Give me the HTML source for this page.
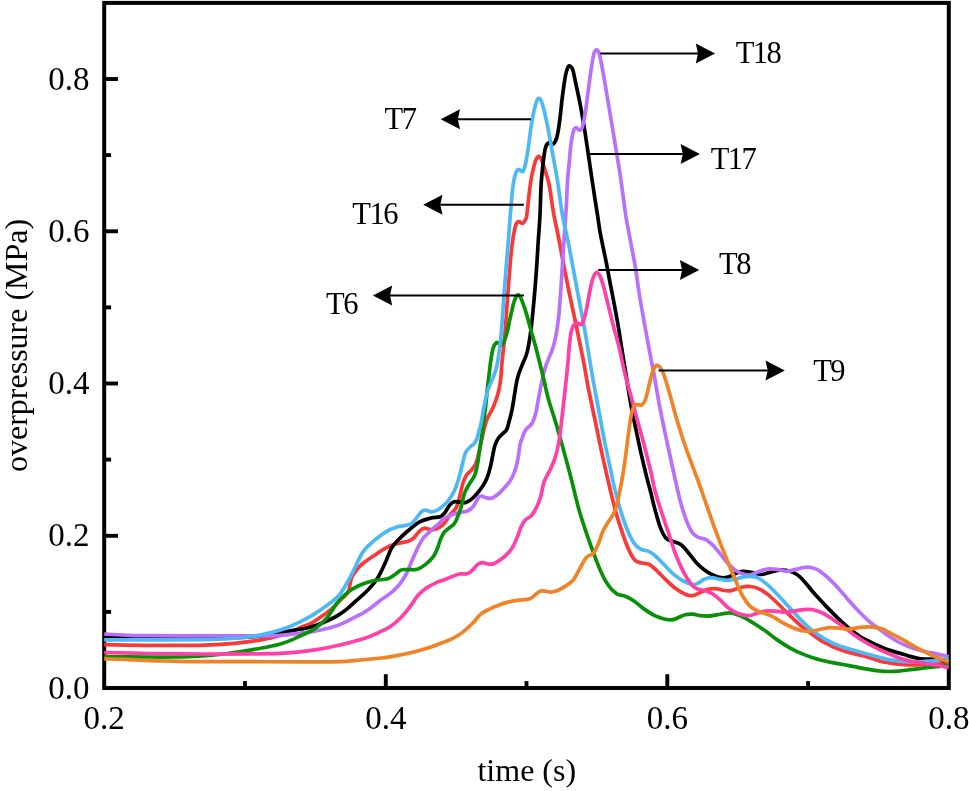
<!DOCTYPE html>
<html><head><meta charset="utf-8"><title>overpressure vs time</title>
<style>html,body{margin:0;padding:0;background:#fff}body{width:969px;height:791px;overflow:hidden}svg{display:block;will-change:transform}text{font-family:"Liberation Serif",serif;fill:#000}</style></head><body>
<svg width="969" height="791" viewBox="0 0 969 791">
<rect width="969" height="791" fill="#fff"/>
<rect x="104.2" y="2.9" width="844.6" height="685.1" fill="none" stroke="#000" stroke-width="4.0"/>
<g stroke="#000" stroke-width="3.9" fill="none"><line x1="104.2" y1="611.9" x2="111.1" y2="611.9"/><line x1="104.2" y1="535.8" x2="118.0" y2="535.8"/><line x1="104.2" y1="459.6" x2="111.1" y2="459.6"/><line x1="104.2" y1="383.5" x2="118.0" y2="383.5"/><line x1="104.2" y1="307.4" x2="111.1" y2="307.4"/><line x1="104.2" y1="231.3" x2="118.0" y2="231.3"/><line x1="104.2" y1="155.1" x2="111.1" y2="155.1"/><line x1="104.2" y1="79.0" x2="118.0" y2="79.0"/><line x1="245.0" y1="688.0" x2="245.0" y2="681.1"/><line x1="385.8" y1="688.0" x2="385.8" y2="674.2"/><line x1="526.5" y1="688.0" x2="526.5" y2="681.1"/><line x1="667.3" y1="688.0" x2="667.3" y2="674.2"/><line x1="808.1" y1="688.0" x2="808.1" y2="681.1"/></g>
<g font-size="33.0"><text x="89.6" y="698.6" text-anchor="end">0.0</text><text x="89.6" y="546.4" text-anchor="end">0.2</text><text x="89.6" y="394.1" text-anchor="end">0.4</text><text x="89.6" y="241.9" text-anchor="end">0.6</text><text x="89.6" y="89.6" text-anchor="end">0.8</text><text x="104.2" y="728.5" text-anchor="middle">0.2</text><text x="385.8" y="728.5" text-anchor="middle">0.4</text><text x="667.3" y="728.5" text-anchor="middle">0.6</text><text x="948.9" y="728.5" text-anchor="middle">0.8</text></g>
<text x="526.8" y="780.5" font-size="32" text-anchor="middle">time (s)</text>
<text transform="translate(27.2 345.4) rotate(-90)" font-size="32" text-anchor="middle">overpressure (MPa)</text>
<g fill="none" stroke-width="3.7" stroke-linejoin="round" stroke-linecap="butt"><path stroke="#F93838" d="M104.2 644.6C111.8 644.7 133.7 645.2 149.5 645.3C165.3 645.4 186.6 645.5 199.0 645.3C211.4 645.1 216.1 644.7 223.8 644.2C231.5 643.7 238.6 643.0 245.0 642.2C251.4 641.4 256.4 640.7 262.0 639.6C267.6 638.5 273.9 637.1 278.6 635.9C283.3 634.7 286.3 633.7 290.0 632.2C293.7 630.8 297.4 628.7 301.0 627.2C304.6 625.7 307.9 624.9 311.3 623.1C314.7 621.3 318.2 618.8 321.6 616.4C325.0 614.0 328.5 611.6 331.9 608.6C335.3 605.6 339.4 601.1 342.2 598.3C344.9 595.5 346.9 594.9 348.4 591.6C349.9 588.3 349.9 582.0 351.4 578.3C352.8 574.6 355.2 571.7 357.1 569.2C359.0 566.7 360.0 565.8 362.8 563.5C365.6 561.2 370.3 558.1 374.1 555.5C377.9 552.9 381.7 550.1 385.5 548.1C389.3 546.1 393.1 544.7 396.9 543.6C400.7 542.5 405.5 542.2 408.3 541.3C411.1 540.3 412.0 539.6 413.9 537.9C415.8 536.2 417.9 532.6 419.6 531.0C421.3 529.4 422.5 528.5 424.2 528.2C425.9 528.0 428.0 529.3 429.9 529.5C431.8 529.7 433.9 529.7 435.6 529.3C437.3 528.9 438.4 528.2 440.0 527.1C441.6 526.0 443.4 524.5 445.0 522.5C446.6 520.5 447.7 517.8 449.6 515.3C451.5 512.8 454.7 510.6 456.4 507.4C458.1 504.2 458.7 500.2 459.8 496.0C460.9 491.8 462.1 485.8 463.2 482.3C464.3 478.8 465.3 476.9 466.6 474.9C467.9 472.9 469.7 472.2 471.2 470.4C472.7 468.6 474.6 466.5 475.7 464.1C476.8 461.7 477.0 460.3 478.0 456.2C479.0 452.1 480.3 445.6 481.7 439.7C483.1 433.8 484.6 426.1 486.5 420.7C488.4 415.3 491.2 411.8 493.1 407.4C495.0 403.0 496.6 398.8 497.9 394.1C499.2 389.4 500.0 384.7 500.7 379.0C501.4 373.3 501.5 366.8 502.2 360.0C502.9 353.2 503.7 348.2 504.6 338.3C505.5 328.4 506.4 313.0 507.4 300.4C508.3 287.8 509.4 272.8 510.3 262.4C511.2 252.0 512.1 244.1 513.1 237.8C514.1 231.5 515.0 227.2 516.0 224.5C517.0 221.8 517.7 221.8 518.8 221.6C519.9 221.4 521.5 223.8 522.6 223.5C523.7 223.2 524.7 221.1 525.4 219.7C526.1 218.3 526.0 220.8 526.8 215.0C527.6 209.2 529.2 192.4 530.3 184.8C531.3 177.2 532.1 173.9 533.1 169.7C534.1 165.5 535.0 162.0 536.0 159.8C537.0 157.6 537.9 156.4 538.8 156.4C539.7 156.4 540.5 157.3 541.6 159.8C542.7 162.3 544.1 167.4 545.4 171.6C546.7 175.8 547.8 177.6 549.2 184.8C550.6 192.0 552.3 206.2 553.9 215.0C555.5 223.8 556.9 229.0 558.6 237.8C560.3 246.7 562.4 258.3 564.3 268.1C566.2 277.9 568.1 287.4 570.0 296.6C571.9 305.8 574.0 314.9 575.7 323.1C577.4 331.3 579.0 338.9 580.4 345.9C581.8 352.8 582.9 358.0 584.2 364.8C585.5 371.6 586.1 377.0 588.0 386.6C589.9 396.2 593.0 410.6 595.5 422.6C598.0 434.6 600.6 447.4 603.1 458.6C605.6 469.8 608.3 481.6 610.3 490.0C612.3 498.4 613.3 502.7 615.0 509.0C616.7 515.3 618.5 521.3 620.7 527.9C622.9 534.5 625.9 543.4 628.3 548.8C630.7 554.2 632.7 557.8 634.9 560.2C637.1 562.6 639.2 562.3 641.6 563.0C644.0 563.7 646.6 563.1 649.1 564.4C651.6 565.7 653.9 568.0 656.7 570.6C659.6 573.2 663.0 577.1 666.2 580.1C669.4 583.1 672.5 586.2 675.7 588.6C678.9 591.0 682.4 593.1 685.2 594.3C688.1 595.5 690.3 596.0 692.8 595.7C695.3 595.4 697.9 593.5 700.4 592.4C702.9 591.3 705.5 589.8 708.0 589.2C710.5 588.6 713.0 588.4 715.5 588.6C718.0 588.8 720.7 589.8 723.1 590.2C725.5 590.6 728.0 590.9 730.0 590.8C732.0 590.6 733.1 589.9 735.2 589.3C737.3 588.7 740.3 587.5 742.8 587.0C745.3 586.5 747.8 586.3 750.3 586.5C752.8 586.7 755.0 587.1 757.9 588.4C760.8 589.7 763.9 591.4 767.4 594.1C770.9 596.8 775.0 600.9 778.8 604.5C782.6 608.1 786.4 612.3 790.2 615.9C794.0 619.5 797.8 623.1 801.6 626.3C805.4 629.4 809.1 632.1 812.9 634.8C816.7 637.5 820.2 640.1 824.3 642.4C828.4 644.7 832.9 646.9 837.6 648.7C842.4 650.5 847.7 652.0 852.8 653.4C857.9 654.8 863.5 655.9 868.0 657.2C872.5 658.5 876.0 660.0 879.5 661.0C883.0 662.0 885.8 662.4 889.0 662.9C892.2 663.4 895.4 663.8 898.5 664.1C901.6 664.4 904.8 664.7 907.9 664.8C911.0 664.9 914.2 664.9 917.4 664.8C920.6 664.7 922.9 664.5 926.9 664.3C930.9 664.1 937.5 663.9 941.1 663.8C944.7 663.6 947.4 663.5 948.7 663.4"/><path stroke="#000000" d="M104.2 637.3C111.8 637.4 134.0 637.9 150.0 638.0C166.0 638.1 185.0 638.3 200.0 638.2C215.0 638.1 229.2 638.0 240.0 637.5C250.8 637.0 259.1 636.1 265.0 635.5C270.9 634.9 270.9 634.7 275.2 633.9C279.5 633.1 285.5 631.7 290.6 630.8C295.8 629.9 301.8 629.2 306.1 628.3C310.4 627.4 312.9 626.4 316.4 625.2C319.8 624.0 323.4 622.5 326.8 621.0C330.2 619.5 333.7 618.0 337.1 615.9C340.5 613.8 344.1 611.3 347.4 608.6C350.7 605.9 353.6 603.1 357.1 599.9C360.6 596.7 365.0 593.2 368.4 589.6C371.8 586.0 374.6 582.8 377.5 578.3C380.4 573.8 383.2 567.2 385.5 562.3C387.8 557.4 389.3 552.2 391.2 548.7C393.1 545.2 394.0 544.3 396.9 541.3C399.8 538.3 404.5 533.7 408.3 530.5C412.1 527.3 415.8 524.0 419.6 521.9C423.4 519.8 427.6 518.9 431.0 518.0C434.4 517.1 437.7 517.7 440.0 516.8C442.3 515.9 443.4 514.5 445.0 512.5C446.6 510.6 448.1 506.9 449.6 505.1C451.1 503.3 452.4 502.2 454.1 501.7C455.8 501.2 457.9 502.0 459.8 502.2C461.7 502.4 463.6 503.1 465.5 502.6C467.4 502.1 469.3 500.9 471.2 499.4C473.1 497.9 475.0 495.9 476.9 493.7C478.8 491.5 480.9 488.9 482.6 486.3C484.3 483.7 485.8 481.1 487.1 477.8C488.4 474.5 489.6 470.2 490.5 466.4C491.4 462.6 492.0 458.6 492.8 455.0C493.6 451.4 494.2 447.6 495.1 444.8C496.1 442.0 497.2 439.9 498.5 438.0C499.8 436.1 501.7 434.7 503.0 433.4C504.3 432.1 505.5 431.5 506.4 430.0C507.3 428.5 507.4 427.9 508.3 424.5C509.2 421.1 511.0 414.7 512.1 409.3C513.2 403.9 514.0 397.6 514.9 392.2C515.8 386.8 516.6 381.6 517.8 377.1C519.0 372.6 520.4 369.6 522.0 365.3C523.6 361.1 525.8 357.7 527.3 351.6C528.8 345.5 530.0 337.3 531.1 328.8C532.2 320.3 533.1 309.9 534.0 300.4C534.9 290.9 535.6 281.4 536.3 271.9C537.0 262.4 537.5 253.0 538.1 243.5C538.7 234.0 539.5 224.8 540.0 215.0C540.5 205.2 540.6 193.3 541.1 184.8C541.6 176.3 542.3 170.2 543.0 164.0C543.7 157.8 544.4 151.5 545.4 147.9C546.4 144.3 547.4 143.3 548.7 142.7C550.0 142.1 551.6 145.0 553.0 144.1C554.4 143.2 555.7 141.3 556.8 137.4C557.9 133.5 558.8 127.4 559.7 120.4C560.7 113.5 561.5 103.1 562.5 95.7C563.5 88.3 564.5 80.7 565.4 76.0C566.3 71.3 567.0 69.2 567.8 67.5C568.6 65.8 569.2 65.5 570.1 66.0C571.0 66.5 572.0 67.4 572.9 70.3C573.8 73.2 574.7 78.4 575.8 83.6C576.9 88.8 578.3 95.0 579.6 101.4C580.9 107.9 582.1 114.7 583.4 122.3C584.7 129.9 586.1 139.6 587.2 146.9C588.3 154.2 589.1 159.6 590.0 165.9C590.9 172.2 591.5 176.6 592.8 184.8C594.0 193.0 596.2 206.8 597.5 215.0C598.8 223.2 599.1 227.1 600.4 234.0C601.7 240.9 603.5 248.8 605.1 256.7C606.7 264.6 608.2 273.2 609.8 281.4C611.4 289.6 613.0 297.5 614.6 306.0C616.2 314.5 618.1 325.3 619.3 332.6C620.5 339.9 620.8 342.4 622.0 350.0C623.2 357.6 625.1 369.0 626.6 378.5C628.1 388.0 629.7 398.4 631.3 406.9C632.9 415.4 634.4 422.1 636.0 429.7C637.6 437.3 639.0 444.4 640.8 452.4C642.6 460.4 645.1 470.8 646.8 477.5C648.5 484.2 649.5 487.2 650.8 492.5C652.1 497.8 653.2 503.1 654.8 509.0C656.4 514.9 658.6 523.0 660.5 527.9C662.4 532.8 664.0 536.1 666.2 538.4C668.4 540.7 671.3 540.5 673.8 541.6C676.3 542.7 678.9 543.0 681.4 545.0C683.9 547.0 686.5 550.5 689.0 553.5C691.5 556.5 694.1 560.3 696.6 563.0C699.1 565.7 701.7 567.8 704.2 569.7C706.7 571.6 709.2 573.1 711.7 574.4C714.2 575.7 716.8 576.8 719.3 577.3C721.8 577.8 724.2 578.0 726.9 577.4C729.5 576.8 732.6 574.8 735.2 573.8C737.9 572.8 740.0 571.5 742.8 571.3C745.6 571.1 749.1 572.1 752.2 572.6C755.4 573.1 758.5 574.6 761.7 574.5C764.9 574.4 768.0 572.6 771.2 571.9C774.4 571.1 777.5 570.1 780.7 570.0C783.9 569.9 787.4 570.4 790.2 571.3C793.1 572.1 795.3 573.2 797.8 575.1C800.3 577.0 802.6 579.5 805.4 582.7C808.2 585.9 811.3 590.2 814.8 594.1C818.3 598.0 822.4 602.5 826.2 606.4C830.0 610.3 833.8 614.2 837.6 617.8C841.4 621.4 845.2 625.1 849.0 628.2C852.8 631.4 856.6 634.3 860.4 636.7C864.2 639.1 868.5 641.0 871.7 642.6C874.9 644.2 876.6 645.0 879.5 646.3C882.4 647.5 885.8 649.0 889.0 650.1C892.2 651.2 895.4 652.0 898.5 652.9C901.6 653.8 904.8 654.9 907.9 655.8C911.0 656.7 914.2 657.7 917.4 658.2C920.6 658.8 924.0 658.9 926.9 659.1C929.8 659.3 930.9 659.0 934.5 659.4C938.1 659.8 946.3 661.1 948.7 661.5"/><path stroke="#BA70FA" d="M104.2 634.0C108.5 634.2 122.5 635.0 130.0 635.3C137.6 635.6 138.0 635.6 149.5 635.7C161.0 635.8 182.5 635.9 199.0 635.9C215.5 635.9 237.6 635.9 248.6 635.9C259.6 635.9 259.8 635.9 265.0 635.8C270.2 635.7 274.8 635.6 280.0 635.3C285.2 634.9 291.3 634.3 296.5 633.7C301.7 633.1 307.1 632.5 311.3 631.9C315.5 631.2 318.2 630.6 321.6 629.8C325.0 629.0 328.5 628.2 331.9 627.2C335.3 626.2 338.8 625.1 342.2 623.6C345.6 622.1 349.2 620.1 352.6 618.4C356.1 616.7 360.0 614.8 362.9 613.2C365.8 611.6 367.2 610.7 370.0 608.6C372.8 606.5 376.3 603.4 379.8 600.7C383.3 598.1 388.0 595.4 391.2 592.7C394.4 590.1 396.7 587.8 399.2 584.8C401.7 581.8 403.9 578.4 406.0 574.5C408.1 570.6 409.8 565.5 411.7 561.2C413.6 556.9 415.5 552.5 417.4 548.7C419.3 544.9 420.7 541.4 423.0 538.4C425.3 535.4 428.2 533.1 431.0 530.5C433.8 527.9 438.0 524.4 440.0 522.5C442.0 520.6 440.8 520.6 442.8 519.3C444.8 518.0 449.1 515.9 451.9 514.8C454.7 513.7 457.1 513.2 459.8 512.5C462.5 511.8 465.5 511.9 467.8 510.8C470.1 509.8 471.8 508.3 473.5 506.2C475.2 504.1 476.7 500.0 478.0 498.3C479.3 496.6 480.1 496.1 481.4 496.0C482.7 495.9 484.3 497.3 486.0 497.7C487.7 498.1 489.8 498.8 491.7 498.3C493.6 497.8 495.5 496.3 497.4 494.8C499.3 493.3 500.9 491.5 503.0 489.2C505.1 486.9 508.0 484.0 509.9 481.2C511.8 478.4 513.1 475.7 514.4 472.1C515.7 468.5 516.9 464.2 517.8 459.6C518.7 455.1 519.4 448.1 520.0 444.8C520.6 441.5 520.7 442.1 521.6 439.7C522.5 437.3 523.7 432.9 525.4 430.2C527.1 427.5 530.3 426.4 532.0 423.5C533.7 420.6 534.7 417.4 535.8 413.1C536.9 408.8 537.6 402.9 538.6 397.9C539.6 392.8 540.4 387.9 541.5 382.8C542.6 377.8 544.2 371.5 545.3 367.6C546.4 363.7 547.0 362.8 548.3 359.6C549.5 356.4 551.5 352.2 552.8 348.3C554.0 344.4 554.8 341.5 555.8 336.4C556.8 331.2 557.8 324.3 558.6 317.4C559.4 310.4 559.9 302.3 560.5 294.7C561.1 287.1 561.5 279.5 562.0 271.9C562.5 264.3 562.9 256.1 563.4 249.1C563.9 242.2 564.2 237.1 564.7 230.2C565.2 223.3 565.7 216.2 566.2 207.8C566.7 199.4 567.1 187.8 567.6 180.0C568.1 172.2 568.8 167.2 569.4 160.7C570.0 154.2 570.6 146.2 571.4 141.0C572.1 135.8 573.1 132.0 573.9 129.8C574.7 127.6 575.4 127.8 576.4 127.9C577.4 128.0 578.6 130.3 579.6 130.2C580.6 130.0 581.5 129.9 582.4 127.0C583.3 124.1 584.3 118.6 585.3 112.8C586.2 107.0 587.1 99.0 588.1 91.9C589.1 84.8 590.0 76.6 591.0 70.3C592.0 64.0 592.9 57.6 593.8 54.2C594.7 50.8 595.4 50.0 596.3 49.9C597.2 49.8 598.1 50.2 599.1 53.3C600.1 56.4 601.1 62.3 602.3 68.4C603.5 74.5 604.7 81.7 606.1 90.0C607.5 98.3 609.3 109.0 610.9 118.5C612.5 128.0 614.2 138.4 615.6 146.9C617.0 155.4 618.4 163.4 619.4 169.7C620.4 176.0 620.5 177.2 621.6 184.8C622.7 192.4 624.3 205.8 625.7 215.0C627.1 224.2 628.6 230.8 630.2 239.7C631.8 248.5 633.9 258.3 635.5 268.1C637.1 277.9 637.7 284.9 640.0 298.5C642.3 312.1 646.9 337.3 649.3 350.0C651.6 362.7 652.4 365.2 654.1 374.7C655.8 384.2 657.7 396.2 659.7 406.9C661.8 417.6 664.2 428.7 666.4 439.1C668.6 449.5 671.1 461.0 673.0 469.5C674.9 478.0 676.2 484.1 677.6 490.0C679.0 495.9 679.8 499.8 681.4 505.2C683.0 510.6 685.2 517.5 687.1 522.2C689.0 526.9 690.9 530.7 692.8 533.2C694.7 535.7 696.3 536.3 698.5 537.4C700.7 538.5 703.6 538.3 706.1 539.7C708.6 541.1 711.1 543.5 713.6 546.0C716.1 548.5 718.6 551.8 721.0 554.8C723.4 557.8 725.6 561.1 728.2 563.8C730.8 566.5 733.1 569.1 736.5 571.0C739.9 572.9 744.9 575.0 748.5 575.1C752.1 575.2 754.8 572.9 757.9 571.9C761.0 570.9 764.2 569.4 767.4 569.0C770.6 568.6 773.7 569.0 776.9 569.4C780.1 569.8 783.2 571.3 786.4 571.3C789.6 571.3 793.0 570.0 795.9 569.4C798.8 568.8 801.0 567.8 803.5 567.5C806.0 567.2 808.5 567.0 811.0 567.5C813.5 568.0 815.8 568.6 818.6 570.3C821.5 572.0 824.9 575.0 828.1 577.9C831.3 580.8 834.1 583.6 837.6 587.4C841.1 591.2 845.2 596.4 849.0 600.7C852.8 605.0 856.9 609.4 860.4 613.0C863.9 616.6 866.8 619.4 870.0 622.1C873.2 624.8 876.3 626.8 879.5 629.2C882.7 631.6 885.8 634.2 889.0 636.3C892.2 638.4 895.4 640.3 898.5 642.0C901.6 643.7 904.8 645.0 907.9 646.3C911.0 647.6 914.2 648.6 917.4 649.6C920.6 650.6 923.7 651.3 926.9 652.0C930.1 652.7 932.8 653.1 936.4 653.9C940.0 654.7 946.7 656.2 948.7 656.7"/><path stroke="#089108" d="M104.2 656.5C111.8 656.6 137.8 656.9 149.5 657.0C161.2 657.1 166.1 657.1 174.3 657.0C182.6 656.9 190.8 656.7 199.0 656.2C207.2 655.7 215.5 655.0 223.8 654.0C232.1 653.0 242.2 651.3 248.6 650.3C255.0 649.3 257.9 648.8 262.0 648.0C266.1 647.2 269.9 646.5 273.0 645.8C276.1 645.1 277.4 644.9 280.3 644.0C283.2 643.1 287.2 641.8 290.6 640.4C294.1 639.0 297.6 637.1 301.0 635.5C304.4 633.9 308.2 632.5 311.3 630.8C314.4 629.1 316.9 627.4 319.5 625.2C322.1 623.1 324.7 620.3 326.8 617.9C328.9 615.5 330.2 613.2 331.9 610.7C333.6 608.2 335.4 605.2 337.1 603.0C338.8 600.8 339.8 599.5 342.2 597.3C344.6 595.1 348.0 591.8 351.4 589.6C354.8 587.4 359.0 585.5 362.8 584.0C366.6 582.5 369.9 581.4 374.1 580.5C378.3 579.6 384.4 579.8 387.8 578.8C391.2 577.8 392.3 576.3 394.6 574.8C396.9 573.3 399.1 570.8 401.4 569.9C403.7 569.0 405.6 569.8 408.3 569.7C411.0 569.6 414.6 570.1 417.4 569.2C420.2 568.4 422.6 566.7 425.3 564.6C428.0 562.5 431.2 559.5 433.3 556.6C435.4 553.8 436.7 550.1 437.8 547.5C438.9 544.9 438.9 543.2 440.0 540.7C441.1 538.2 442.6 534.4 444.2 532.2C445.8 530.0 448.2 528.8 449.8 527.5C451.4 526.2 452.4 525.8 453.5 524.5C454.6 523.2 455.1 522.8 456.4 519.9C457.6 517.0 459.7 511.8 461.0 507.4C462.3 503.0 463.1 497.5 464.4 493.7C465.7 489.9 467.2 487.6 468.9 484.6C470.6 481.6 473.2 478.9 474.6 475.5C476.0 472.1 476.7 467.9 477.5 464.1C478.3 460.3 478.6 456.6 479.2 452.8C479.8 449.0 480.3 445.2 480.9 441.4C481.5 437.6 481.8 435.7 482.6 430.0C483.4 424.3 484.7 414.3 485.5 407.4C486.3 400.5 486.7 394.8 487.4 388.5C488.1 382.2 489.2 373.9 489.7 369.5C490.2 365.1 490.0 365.6 490.6 362.0C491.2 358.4 492.1 351.1 493.2 347.8C494.3 344.6 495.6 343.0 497.0 342.5C498.4 342.0 500.1 346.2 501.7 344.9C503.3 343.6 505.1 339.1 506.5 334.5C507.9 329.9 509.0 322.9 510.3 317.4C511.6 311.9 512.8 305.4 514.1 301.6C515.4 297.9 516.6 295.2 517.9 294.9C519.1 294.6 520.2 296.6 521.6 299.7C523.0 302.8 524.8 308.4 526.4 313.6C528.0 318.8 529.5 325.0 531.1 330.7C532.7 336.4 534.5 342.6 535.9 347.8C537.3 353.0 538.3 357.3 539.5 362.0C540.7 366.7 541.6 370.0 543.0 376.0C544.4 382.0 546.0 390.1 548.1 397.9C550.2 405.7 553.2 414.1 555.7 422.6C558.2 431.2 560.8 440.0 563.3 449.2C565.8 458.4 569.1 470.8 570.9 477.6C572.7 484.4 572.6 484.5 574.0 490.0C575.4 495.5 577.1 503.2 579.2 510.5C581.3 517.8 584.1 526.3 586.6 533.6C589.1 540.9 591.6 547.9 594.1 554.5C596.6 561.1 599.2 568.1 601.7 573.5C604.2 578.9 606.8 583.3 609.3 586.7C611.8 590.1 614.2 592.3 616.9 593.9C619.6 595.5 622.5 595.0 625.4 596.2C628.2 597.4 631.0 598.9 634.0 601.0C637.0 603.1 640.0 606.2 643.5 608.6C647.0 611.0 651.3 613.9 654.8 615.6C658.3 617.3 661.4 618.3 664.3 619.0C667.1 619.7 669.5 620.1 671.9 619.9C674.3 619.6 676.4 618.4 678.6 617.5C680.8 616.6 682.8 615.3 685.2 614.8C687.6 614.2 690.3 614.1 692.8 614.2C695.3 614.3 697.9 615.3 700.4 615.6C702.9 615.9 705.2 616.2 708.0 616.1C710.8 616.0 714.6 615.3 717.4 614.8C720.2 614.3 722.9 613.6 725.0 613.3C727.1 613.0 728.3 612.9 730.0 613.0C731.7 613.1 732.8 613.2 735.2 614.0C737.7 614.8 741.6 616.2 744.7 617.8C747.9 619.4 750.6 621.3 754.1 623.5C757.6 625.7 761.7 628.3 765.5 631.0C769.3 633.7 772.8 636.8 776.9 639.6C781.0 642.5 785.8 645.6 790.2 648.1C794.6 650.6 798.8 652.5 803.5 654.4C808.2 656.3 813.6 658.1 818.6 659.5C823.6 660.9 828.7 661.9 833.8 662.9C838.9 663.9 843.9 664.6 849.0 665.6C854.1 666.6 859.1 667.7 864.2 668.6C869.3 669.5 875.4 670.5 879.5 671.0C883.6 671.5 885.8 671.5 889.0 671.5C892.2 671.5 895.4 671.4 898.5 671.1C901.6 670.9 904.8 670.4 907.9 670.0C911.0 669.6 914.2 669.3 917.4 668.9C920.6 668.5 923.7 668.0 926.9 667.6C930.1 667.2 932.8 667.2 936.4 666.7C940.0 666.2 946.7 665.1 948.7 664.8"/><path stroke="#4DB8F5" d="M104.2 639.9C111.8 639.9 133.7 639.9 149.5 639.9C165.3 639.9 186.6 639.9 199.0 639.7C211.4 639.6 215.5 639.5 223.8 639.0C232.1 638.5 240.9 638.0 248.6 637.0C256.3 636.0 263.0 634.7 270.0 632.9C277.0 631.1 283.7 629.0 290.6 626.2C297.5 623.4 305.3 619.4 311.3 615.9C317.3 612.4 322.5 608.6 326.8 605.5C331.1 602.4 334.5 599.7 337.1 597.3C339.7 594.9 339.7 595.0 342.2 591.1C344.7 587.2 348.6 580.2 352.0 573.7C355.4 567.2 359.1 557.6 362.8 552.1C366.5 546.6 370.3 544.0 374.1 540.7C377.9 537.4 381.7 534.5 385.5 532.2C389.3 529.9 392.7 528.4 396.9 527.1C401.1 525.8 407.1 525.9 410.5 524.2C413.9 522.5 415.5 518.9 417.4 516.8C419.3 514.6 420.5 512.4 421.9 511.3C423.2 510.2 423.9 510.1 425.5 510.2C427.1 510.3 429.5 511.9 431.4 511.9C433.3 511.9 435.2 511.1 437.1 510.2C439.0 509.2 440.9 507.8 442.8 506.2C444.7 504.6 446.5 503.0 448.4 500.5C450.3 498.0 452.4 495.0 454.1 491.4C455.8 487.8 457.4 483.2 458.7 478.9C460.0 474.5 461.0 469.6 462.1 465.3C463.2 461.0 464.2 455.8 465.5 452.8C466.8 449.8 468.6 448.7 470.1 447.1C471.6 445.5 473.4 444.8 474.6 443.1C475.8 441.4 476.7 439.0 477.5 436.8C478.3 434.6 478.6 432.1 479.2 430.0C479.8 427.9 479.9 428.9 480.8 424.5C481.7 420.1 483.3 409.6 484.6 403.6C485.9 397.6 486.8 393.2 488.4 388.5C490.0 383.8 492.7 379.0 494.1 375.2C495.5 371.4 496.2 368.6 496.9 365.7C497.6 362.8 497.5 362.6 498.2 358.0C498.9 353.4 499.9 347.9 500.8 338.3C501.7 328.7 502.7 313.0 503.6 300.4C504.6 287.8 505.6 273.5 506.5 262.4C507.4 251.3 508.3 241.9 508.9 234.0C509.5 226.1 509.6 223.2 510.3 215.0C511.0 206.8 512.2 191.9 513.2 184.8C514.2 177.7 515.0 175.0 516.0 172.5C517.0 170.0 517.8 169.8 518.9 169.7C520.0 169.5 521.6 172.5 522.7 171.6C523.8 170.7 524.5 168.1 525.5 164.0C526.5 159.9 527.4 153.2 528.4 146.9C529.4 140.6 530.2 132.1 531.2 126.0C532.2 119.9 533.2 114.4 534.1 110.2C535.0 106.0 536.0 102.7 536.9 100.7C537.8 98.7 538.4 98.2 539.2 98.4C540.0 98.6 540.7 99.3 541.6 101.6C542.5 103.9 543.4 107.4 544.5 112.1C545.6 116.8 547.0 123.4 548.3 129.8C549.6 136.2 550.8 143.7 552.1 150.7C553.4 157.7 554.9 165.9 555.9 171.6C556.9 177.3 557.0 177.6 558.1 184.8C559.2 192.0 560.7 205.5 562.4 215.0C564.1 224.5 566.2 232.1 568.1 241.6C570.0 251.1 571.9 261.8 573.8 271.9C575.7 282.0 577.6 292.2 579.5 302.3C581.4 312.4 583.5 322.7 585.2 332.6C587.0 342.6 588.6 353.6 590.0 362.0C591.4 370.4 592.1 374.3 593.6 382.8C595.1 391.3 597.4 403.0 599.3 413.1C601.2 423.2 603.1 434.0 605.0 443.5C606.9 453.0 609.0 462.2 610.7 470.0C612.4 477.8 613.3 483.2 615.0 490.0C616.7 496.8 618.7 504.3 620.7 510.9C622.8 517.5 625.1 524.4 627.3 529.8C629.5 535.2 631.8 539.9 634.0 543.1C636.2 546.3 638.2 547.9 640.6 549.2C643.0 550.5 645.8 550.1 648.2 551.1C650.6 552.1 652.1 553.1 654.8 555.4C657.5 557.7 661.1 561.7 664.3 564.9C667.5 568.1 670.6 571.7 673.8 574.4C677.0 577.1 680.1 579.3 683.3 581.0C686.5 582.7 690.3 584.2 692.8 584.5C695.3 584.8 696.6 583.8 698.5 582.9C700.4 582.0 702.0 580.1 704.2 579.2C706.4 578.3 709.2 577.6 711.7 577.6C714.2 577.6 716.6 578.7 719.3 579.2C721.9 579.7 725.0 580.4 727.6 580.4C730.2 580.4 732.7 579.9 735.2 579.3C737.7 578.7 740.3 577.5 742.8 577.0C745.3 576.5 747.8 576.2 750.3 576.4C752.8 576.5 755.0 576.5 757.9 577.9C760.8 579.3 763.9 581.6 767.4 584.6C770.9 587.6 775.0 592.0 778.8 596.0C782.6 600.0 786.4 604.2 790.2 608.3C794.0 612.4 797.8 616.8 801.6 620.6C805.4 624.4 809.1 628.0 812.9 631.0C816.7 634.0 820.2 636.2 824.3 638.6C828.4 641.0 832.9 643.4 837.6 645.3C842.4 647.2 847.7 648.5 852.8 650.0C857.9 651.5 863.5 653.0 868.0 654.2C872.5 655.4 876.0 656.3 879.5 657.2C883.0 658.1 885.8 659.0 889.0 659.6C892.2 660.2 895.4 660.6 898.5 661.0C901.6 661.4 904.8 661.8 907.9 661.9C911.0 662.0 914.2 662.0 917.4 661.9C920.6 661.8 923.7 661.4 926.9 661.2C930.1 661.0 932.8 660.9 936.4 660.5C940.0 660.1 946.7 658.9 948.7 658.6"/><path stroke="#FF40A8" d="M104.2 652.5C111.8 652.7 133.7 653.2 149.5 653.5C165.3 653.8 182.5 653.9 199.0 654.0C215.5 654.1 235.1 654.0 248.6 653.9C262.1 653.8 272.0 653.7 280.0 653.4C288.0 653.1 291.0 652.8 296.5 652.2C302.0 651.7 307.5 650.9 313.0 650.1C318.5 649.3 324.0 648.4 329.5 647.3C335.0 646.2 341.0 644.8 346.1 643.5C351.2 642.2 356.0 641.0 360.0 639.8C364.0 638.6 366.8 637.7 370.0 636.4C373.2 635.1 376.1 633.7 379.3 632.2C382.5 630.7 385.7 629.5 389.2 627.2C392.7 624.9 396.7 621.8 400.3 618.2C403.9 614.6 407.7 609.6 410.6 605.8C413.5 602.0 415.3 598.4 417.9 595.5C420.5 592.6 423.0 590.4 426.1 588.3C429.2 586.1 433.5 584.0 436.4 582.6C439.3 581.2 441.3 580.9 443.7 580.0C446.1 579.1 448.4 578.0 451.0 577.0C453.6 576.0 456.6 574.5 459.3 574.0C462.0 573.5 464.9 574.4 467.1 573.8C469.3 573.2 470.6 571.8 472.4 570.2C474.2 568.6 476.1 565.7 477.7 564.4C479.3 563.1 480.3 562.7 482.1 562.6C483.9 562.5 486.4 563.8 488.3 564.0C490.2 564.2 491.5 564.4 493.6 563.7C495.7 563.0 498.3 561.3 500.7 559.6C503.1 557.9 505.7 555.6 507.8 553.4C509.9 551.2 511.5 549.1 513.1 546.3C514.7 543.5 516.2 539.8 517.5 536.6C518.8 533.4 519.8 529.7 521.1 526.9C522.4 524.1 523.9 521.6 525.5 519.8C527.1 518.0 529.2 517.8 530.8 516.2C532.4 514.6 533.9 512.4 535.2 510.0C536.5 507.6 537.8 504.6 538.8 502.1C539.8 499.6 540.2 498.4 541.1 495.0C542.0 491.6 542.8 485.6 544.3 481.4C545.8 477.2 548.2 473.8 550.0 470.0C551.8 466.2 553.4 463.0 554.8 458.6C556.2 454.2 557.5 449.5 558.6 443.5C559.7 437.5 560.5 430.2 561.4 422.6C562.3 415.0 563.3 405.8 564.2 397.9C565.1 390.0 566.0 381.5 566.7 375.2C567.4 368.9 567.8 364.6 568.2 360.0C568.6 355.4 568.6 352.4 569.1 347.8C569.6 343.2 570.2 336.4 571.0 332.6C571.8 328.8 572.7 326.6 573.8 325.0C574.9 323.4 576.3 323.2 577.6 323.1C578.9 323.0 580.3 325.4 581.4 324.6C582.5 323.8 583.2 321.5 584.2 318.4C585.2 315.3 586.2 310.6 587.1 306.0C588.0 301.4 589.0 295.4 589.9 290.9C590.8 286.4 591.8 281.9 592.8 278.8C593.8 275.7 595.1 273.1 596.2 272.5C597.3 271.9 598.2 272.9 599.4 275.0C600.6 277.1 601.8 280.3 603.2 285.2C604.6 290.1 606.3 297.2 608.0 304.2C609.7 311.1 611.7 319.6 613.6 326.9C615.5 334.2 617.4 340.1 619.3 347.8C621.1 355.5 622.7 364.5 624.7 372.8C626.7 381.1 629.1 389.2 631.3 397.4C633.5 405.6 635.7 413.9 637.9 422.1C640.1 430.3 642.4 438.2 644.6 446.7C646.8 455.2 649.5 466.1 651.2 473.3C652.9 480.5 653.2 484.1 654.8 490.0C656.3 495.9 658.3 502.1 660.5 509.0C662.7 516.0 665.6 524.1 668.1 531.7C670.6 539.3 673.2 547.9 675.7 554.5C678.2 561.1 680.8 566.7 683.3 571.6C685.8 576.5 688.7 581.1 690.9 583.9C693.1 586.7 694.4 587.5 696.6 588.6C698.8 589.7 701.7 589.7 704.2 590.5C706.7 591.3 709.2 592.0 711.7 593.4C714.2 594.8 716.6 596.8 719.3 599.1C721.9 601.4 725.0 605.1 727.6 607.3C730.2 609.5 732.7 610.8 735.2 612.1C737.7 613.4 740.3 614.3 742.8 614.9C745.3 615.5 747.8 615.8 750.3 615.5C752.8 615.2 755.4 613.7 757.9 613.0C760.4 612.3 762.6 611.4 765.5 611.1C768.4 610.8 771.8 610.9 775.0 611.1C778.2 611.3 781.3 612.1 784.5 612.1C787.7 612.1 790.8 611.5 794.0 611.1C797.2 610.7 800.4 609.8 803.5 609.6C806.6 609.4 809.8 609.2 812.9 609.8C816.0 610.4 819.2 611.5 822.4 613.0C825.6 614.5 828.7 616.6 831.9 618.7C835.1 620.8 837.9 622.9 841.4 625.4C844.9 627.9 849.0 631.2 852.8 633.9C856.6 636.6 860.4 639.2 864.2 641.5C868.0 643.8 871.7 645.8 875.5 647.7C879.3 649.6 883.1 651.2 886.9 652.9C890.7 654.6 895.0 656.4 898.5 657.7C902.0 659.0 904.8 659.7 907.9 660.5C911.0 661.3 914.2 661.9 917.4 662.4C920.6 662.9 923.7 663.3 926.9 663.8C930.1 664.3 932.8 664.7 936.4 665.3C940.0 665.9 946.7 667.2 948.7 667.6"/><path stroke="#F08326" d="M104.2 658.9C107.6 659.0 117.2 659.1 124.8 659.4C132.3 659.7 141.2 660.4 149.5 660.7C157.8 661.0 166.1 661.0 174.3 661.2C182.6 661.4 186.6 661.6 199.0 661.7C211.4 661.8 231.8 661.7 248.6 661.7C265.4 661.7 287.9 661.9 300.0 661.9C312.1 661.9 313.6 662.0 321.3 661.9C329.0 661.8 339.7 661.6 346.1 661.3C352.6 661.0 355.2 660.5 360.0 660.0C364.8 659.5 370.0 659.1 375.0 658.6C380.0 658.1 384.1 657.9 390.0 656.9C395.9 655.9 404.6 654.2 410.6 652.8C416.6 651.4 420.9 650.2 426.1 648.6C431.3 647.0 437.3 644.6 441.6 643.0C445.9 641.4 448.5 640.5 451.9 638.8C455.3 637.1 458.8 635.2 462.2 632.6C465.6 630.0 469.5 626.4 472.6 623.3C475.7 620.2 477.9 616.5 480.8 614.1C483.7 611.7 487.6 610.2 490.0 608.9C492.4 607.6 492.7 607.5 495.4 606.5C498.1 605.5 502.5 603.6 506.0 602.6C509.5 601.6 513.1 600.8 516.6 600.3C520.1 599.8 524.6 599.9 527.3 599.4C530.0 598.9 531.0 598.3 532.6 597.3C534.2 596.3 535.5 594.3 537.0 593.2C538.5 592.1 539.8 591.2 541.4 590.9C543.0 590.6 544.9 591.3 546.7 591.5C548.5 591.7 549.9 592.3 552.0 592.0C554.1 591.7 556.7 590.8 559.1 589.7C561.5 588.6 563.8 587.2 566.2 585.6C568.6 584.0 571.1 582.6 573.3 580.0C575.4 577.4 576.9 573.7 579.1 569.9C581.3 566.1 584.2 560.0 586.6 557.3C589.0 554.6 591.3 555.5 593.2 553.5C595.1 551.5 596.3 548.6 597.9 545.0C599.5 541.4 601.1 535.3 602.7 531.7C604.3 528.1 605.7 526.0 607.4 523.2C609.1 520.4 611.5 517.7 613.1 514.7C614.7 511.7 616.0 508.1 616.9 505.2C617.8 502.2 617.7 501.1 618.5 497.0C619.3 492.9 620.6 487.7 621.8 480.9C623.0 474.1 624.5 464.1 625.6 456.2C626.7 448.3 627.5 440.4 628.5 433.5C629.5 426.6 630.4 419.1 631.3 414.5C632.2 409.9 633.0 407.6 634.1 406.0C635.2 404.4 636.6 404.8 637.9 404.6C639.2 404.4 640.4 405.9 641.7 405.0C643.0 404.1 644.2 402.8 645.5 399.3C646.8 395.8 648.0 389.0 649.3 384.1C650.6 379.2 651.8 373.3 653.1 370.2C654.4 367.1 655.6 365.7 656.9 365.4C658.2 365.1 659.4 366.4 660.7 368.3C662.0 370.2 662.9 372.1 664.5 376.6C666.1 381.1 668.3 388.9 670.2 395.5C672.1 402.1 673.7 408.8 675.9 416.4C678.1 424.0 681.0 433.4 683.5 441.0C686.0 448.6 688.6 455.4 691.0 461.9C693.4 468.4 695.2 472.9 697.8 480.0C700.4 487.1 703.4 496.1 706.4 504.6C709.4 513.1 712.6 522.7 715.8 531.2C718.9 539.7 722.1 547.9 725.3 555.8C728.5 563.7 731.9 572.0 734.8 578.6C737.6 585.2 739.9 591.0 742.4 595.6C744.9 600.2 747.5 603.6 750.0 606.1C752.5 608.6 755.5 609.7 757.5 610.8C759.5 611.9 759.4 611.6 761.7 612.5C764.0 613.4 768.0 614.4 771.2 615.9C774.4 617.4 777.2 619.7 780.7 621.6C784.2 623.5 788.6 625.8 792.1 627.3C795.6 628.8 798.5 630.0 801.6 630.7C804.8 631.4 807.9 631.6 811.0 631.4C814.1 631.1 817.3 629.8 820.5 629.2C823.7 628.6 826.8 627.8 830.0 627.6C833.2 627.4 836.3 627.9 839.5 628.2C842.7 628.5 845.8 629.3 849.0 629.2C852.2 629.1 855.3 628.0 858.5 627.6C861.7 627.2 865.2 627.0 868.0 626.9C870.8 626.8 873.0 626.9 875.5 627.3C878.0 627.7 880.9 628.3 883.1 629.2C885.4 630.1 886.4 631.1 889.0 632.5C891.6 633.9 895.4 635.6 898.5 637.3C901.6 639.0 904.8 640.7 907.9 642.5C911.0 644.3 914.2 646.5 917.4 648.2C920.6 649.9 923.7 651.4 926.9 652.9C930.1 654.4 932.8 655.7 936.4 657.2C940.0 658.7 946.7 661.1 948.7 661.9"/></g>
<g><line x1="530.8" y1="119.3" x2="457.8" y2="119.3" stroke="#000" stroke-width="2"/><path d="M440.7 119.3L460.0 109.3L457.8 119.3L460.0 129.3Z" fill="#000"/><text x="384.5" y="129.4" font-size="30.5" letter-spacing="-1.5">T7</text><line x1="523.8" y1="204.7" x2="440.3" y2="204.7" stroke="#000" stroke-width="2"/><path d="M423.2 204.7L442.5 194.7L440.3 204.7L442.5 214.7Z" fill="#000"/><text x="352.3" y="224.0" font-size="30.5" letter-spacing="-1.5">T16</text><line x1="523.9" y1="295.4" x2="390.0" y2="295.4" stroke="#000" stroke-width="2"/><path d="M372.9 295.4L392.2 285.4L390.0 295.4L392.2 305.4Z" fill="#000"/><text x="326.1" y="313.9" font-size="30.5" letter-spacing="-1.5">T6</text><line x1="600.4" y1="53.4" x2="698.0" y2="53.4" stroke="#000" stroke-width="2"/><path d="M715.1 53.4L695.8 43.4L698.0 53.4L695.8 63.4Z" fill="#000"/><text x="735.7" y="62.9" font-size="30.5" letter-spacing="-1.5">T18</text><line x1="589.6" y1="154.1" x2="682.8" y2="154.1" stroke="#000" stroke-width="2"/><path d="M699.9 154.1L680.6 144.1L682.8 154.1L680.6 164.1Z" fill="#000"/><text x="710.7" y="168.6" font-size="30.5" letter-spacing="-1.5">T17</text><line x1="598.2" y1="270.0" x2="682.1" y2="270.0" stroke="#000" stroke-width="2"/><path d="M699.2 270.0L679.9 260.0L682.1 270.0L679.9 280.0Z" fill="#000"/><text x="719.1" y="274.1" font-size="30.5" letter-spacing="-1.5">T8</text><line x1="658.6" y1="370.6" x2="767.7" y2="370.6" stroke="#000" stroke-width="2"/><path d="M784.8 370.6L765.5 360.6L767.7 370.6L765.5 380.6Z" fill="#000"/><text x="813.2" y="380.9" font-size="30.5" letter-spacing="-1.5">T9</text></g>
</svg></body></html>
